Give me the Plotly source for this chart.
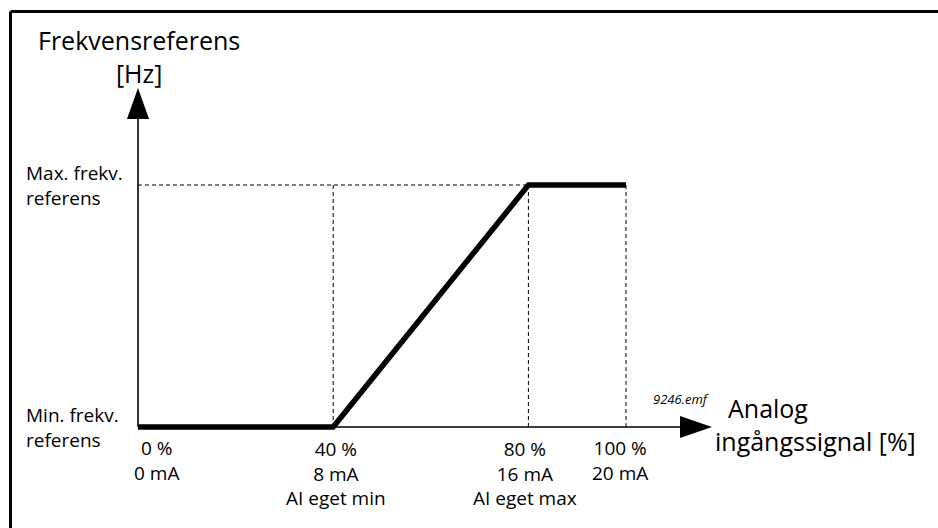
import plotly.graph_objects as go

# Signal breakpoints (% of analog input) and resulting frequency reference level
signal_pct = [0, 40, 80, 100]
freq_level = [0, 0, 1, 1]          # 0 = min. frekv. referens, 1 = max. frekv. referens

pct_labels = ["0 %", "40 %", "80 %", "100 %"]
ma_labels = ["0 mA", "8 mA", "16 mA", "20 mA"]
param_labels = ["", "AI eget min", "AI eget max", ""]

W, H = 938, 528
# pixel layout of the drawing
X0_PX, X100_PX = 138, 626
Y0_PX, Y1_PX = 427, 185
sx = (X100_PX - X0_PX) / 100.0
sy = (Y0_PX - Y1_PX) / 1.0
x_range = [-X0_PX / sx, (W - X0_PX) / sx]
y_range = [-(H - Y0_PX) / sy, Y0_PX / sy]

def dx(px):
    return px / sx

def dy(px):
    return px / sy

FONT = "Open Sans"
BIG, SMALL = 25, 19
fig = go.Figure()

# reference guide lines (dashed)
x_max_pt = signal_pct[2]
guide = dict(color="black", width=1, dash="4px,3px")
fig.add_shape(type="line", x0=0, x1=x_max_pt, y0=freq_level[-1], y1=freq_level[-1], line=guide)
for xv in signal_pct[1:]:
    fig.add_shape(type="line", x0=xv, x1=xv, y0=0, y1=freq_level[-1], line=guide)

# axes with arrows
y_tip = dy(Y0_PX - 88)
x_tip = dx(712 - X0_PX)
fig.add_shape(type="line", x0=0, x1=0, y0=0, y1=y_tip - dy(20), line=dict(color="black", width=1.6))
fig.add_shape(type="line", x0=0, x1=x_tip - dx(20), y0=0, y1=0, line=dict(color="black", width=1.6))
fig.add_trace(go.Scatter(
    x=[0, -dx(11), dx(11), 0], y=[y_tip, y_tip - dy(31), y_tip - dy(31), y_tip],
    fill="toself", fillcolor="black", mode="lines", line=dict(color="black", width=0),
    hoverinfo="skip", showlegend=False))
fig.add_trace(go.Scatter(
    x=[x_tip, x_tip - dx(32), x_tip - dx(32), x_tip], y=[0, dy(11), -dy(11), 0],
    fill="toself", fillcolor="black", mode="lines", line=dict(color="black", width=0),
    hoverinfo="skip", showlegend=False))

# frequency reference curve
fig.add_trace(go.Scatter(x=signal_pct, y=freq_level, mode="lines",
                         line=dict(color="black", width=5.5), hoverinfo="skip", showlegend=False))

ann = []
def text(x, y, s, size, xanchor="center", align="center", italic=False, **kw):
    ann.append(dict(x=x, y=y, xref="x", yref="y", text=(f"<i>{s}</i>" if italic else s),
                    showarrow=False, xanchor=xanchor, yanchor="middle", align=align,
                    font=dict(family=FONT, size=size, color="black"), **kw))

# axis titles
text(dx(139 - X0_PX), dy(Y0_PX - 56), "Frekvensreferens<br>[Hz]", BIG)
text(dx(713 - X0_PX), dy(Y0_PX - 424), "&nbsp;&nbsp;Analog<br>ingångssignal [%]", BIG,
     xanchor="left", align="left")

# level labels
text(dx(24 - X0_PX), dy(Y0_PX - 185), "Max. frekv.<br>referens", SMALL, xanchor="left", align="left")
text(dx(24 - X0_PX), dy(Y0_PX - 427), "Min. frekv.<br>referens", SMALL, xanchor="left", align="left")

# tick labels below the signal axis
shifts = {0: 18, 40: 3, 80: -3, 100: -6}
for i, xv in enumerate(signal_pct):
    lines = [pct_labels[i], ma_labels[i]] + ([param_labels[i]] if param_labels[i] else [])
    yc = 448 + (len(lines) - 1) * 25 / 2
    text(xv, dy(Y0_PX - yc), "<br>".join(lines), SMALL, xshift=shifts[xv])

text(dx(681 - X0_PX), dy(Y0_PX - 399), "9246.emf", 13, italic=True)

# frame on the top and left edges
frame = dict(color="black", width=3)
fig.add_shape(type="line", xref="paper", yref="paper", x0=10.5 / W, x1=1, y0=1 - 11.5 / H, y1=1 - 11.5 / H, line=frame)
fig.add_shape(type="line", xref="paper", yref="paper", x0=10.5 / W, x1=10.5 / W, y0=0, y1=1 - 11.5 / H, line=frame)

fig.update_layout(
    width=W, height=H, margin=dict(l=0, r=0, t=0, b=0),
    paper_bgcolor="white", plot_bgcolor="white",
    xaxis=dict(range=x_range, visible=False, fixedrange=True),
    yaxis=dict(range=y_range, visible=False, fixedrange=True),
    annotations=ann, showlegend=False,
)

fig.write_html("out.html")
